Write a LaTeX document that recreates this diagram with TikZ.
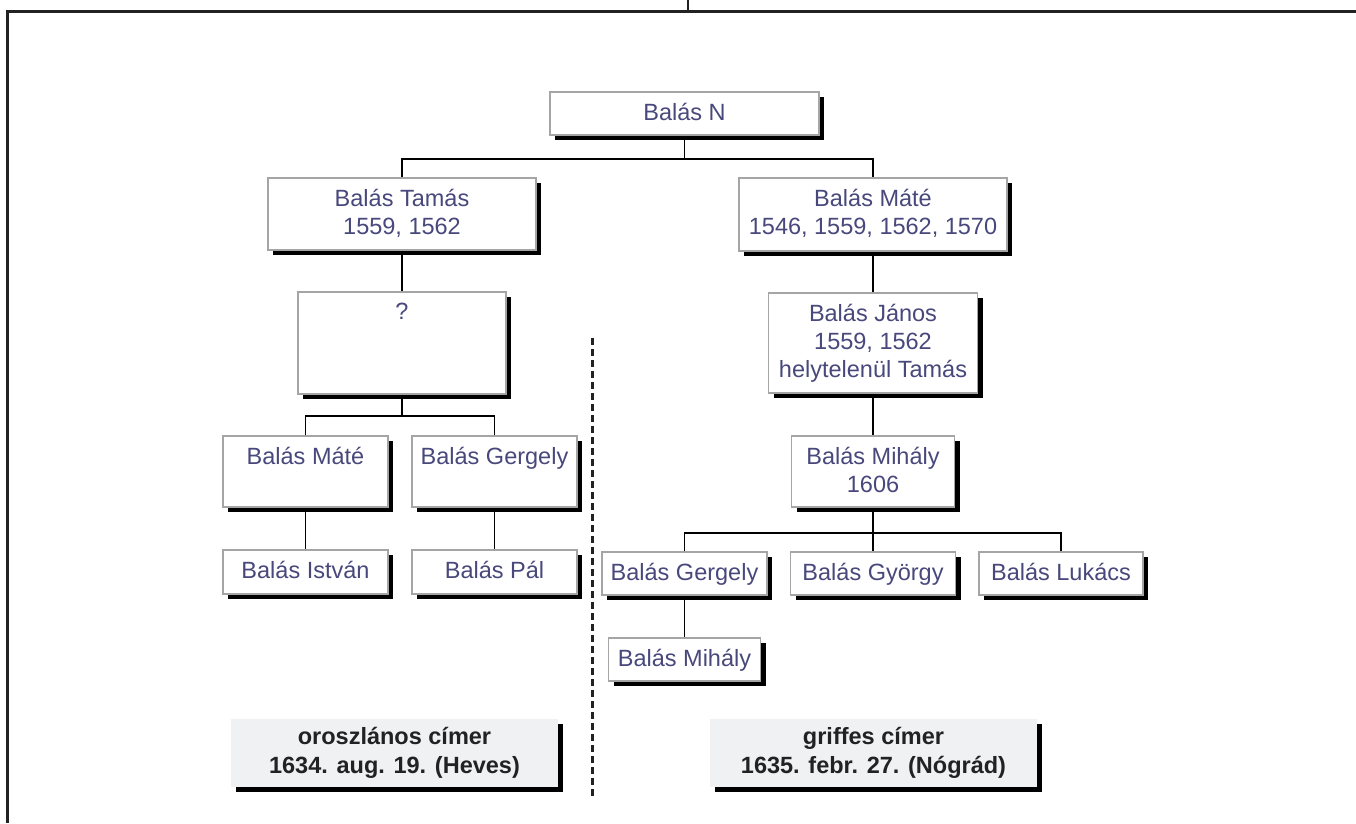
\documentclass[tikz,border=0pt]{standalone}
\usepackage{fontspec}
\setmainfont{Liberation Sans}
\usetikzlibrary{shadows,calc}
\definecolor{pcol}{RGB}{72,72,124}
\definecolor{boxgray}{RGB}{165,165,165}
\definecolor{labfill}{RGB}{240,241,243}
\definecolor{framecol}{RGB}{34,34,34}
\begin{document}
\begin{tikzpicture}[x=1pt,y=-1pt,
  pbox/.style={draw=boxgray, line width=1.4pt, fill=white, inner sep=0pt,
    general shadow={fill=black, shadow xshift=5pt, shadow yshift=-5pt}},
  lbox/.style={fill=labfill, inner sep=0pt, align=center,
    font=\fontsize{23.5}{28.5}\selectfont\bfseries, text=framecol,
    general shadow={fill=black, shadow xshift=5pt, shadow yshift=-5pt}},
  sz/.style 2 args={minimum width=#1pt, minimum height=#2pt},
  ptext/.style={anchor=north, inner sep=0pt, align=center, text=pcol,
    font=\fontsize{23.5}{28}\selectfont},
  conn/.style={draw=black, line width=1.8pt},
  framel/.style={draw=framecol, line width=3pt},
  dashl/.style={draw=framecol, line width=3pt, dash pattern=on 6.5pt off 4.5pt}
]
\useasboundingbox (0,0) rectangle (1356,823);
% frame
\draw[framel] (1356,11) -- (7,11) -- (7,823);
\draw[draw=framecol, line width=1.2pt] (688,0) -- (688,11);
% dashed separator
\draw[dashl] (592,338) -- (592,800);

% boxes
\node[pbox, sz={269}{43}] (N) at (684.5,113.5) {};
\node[pbox, sz={268}{72}] (Tamas) at (402,214) {};
\node[pbox, sz={268}{73}] (MateR) at (873,214.5) {};
\node[pbox, sz={208}{102}] (Q) at (402,343) {};
\node[pbox, sz={209}{100}] (Janos) at (873,343) {};
\node[pbox, sz={165}{71}] (MateL) at (305.5,471.5) {};
\node[pbox, sz={165}{71}] (GergelyL) at (494.5,471.5) {};
\node[pbox, sz={163}{71}] (MihalyM) at (873,471.5) {};
\node[pbox, sz={165}{44}] (Istvan) at (305.5,572) {};
\node[pbox, sz={165}{44}] (Pal) at (494.5,572) {};
\node[pbox, sz={165}{43}] (GergelyR) at (684.5,573.5) {};
\node[pbox, sz={165}{43}] (Gyorgy) at (873,573.5) {};
\node[pbox, sz={164}{43}] (Lukacs) at (1061,573.5) {};
\node[pbox, sz={152}{43}] (MihalyB) at (684.5,659.5) {};

% texts
\node[ptext] (tN) at ($(N.north)+(0,11.5)$) {Balás N};
\node[ptext] (tTamas) at ($(Tamas.north)+(0,11.5)$) {Balás Tamás\\1559, 1562};
\node[ptext] (tMateR) at ($(MateR.north)+(0,11.5)$) {Balás Máté\\1546, 1559, 1562, 1570};
\node[ptext] (tQ) at ($(Q.north)+(0,11.5)$) {?};
\node[ptext] (tJanos) at ($(Janos.north)+(0,11.5)$) {Balás János\\1559, 1562\\helytelenül Tamás};
\node[ptext] (tMateL) at ($(MateL.north)+(0,11.5)$) {Balás Máté};
\node[ptext] (tGergelyL) at ($(GergelyL.north)+(0,11.5)$) {Balás Gergely};
\node[ptext] (tMihalyM) at ($(MihalyM.north)+(0,11.5)$) {Balás Mihály\\1606};
\node[ptext] (tIstvan) at ($(Istvan.north)+(0,11.5)$) {Balás István};
\node[ptext] (tPal) at ($(Pal.north)+(0,11.5)$) {Balás Pál};
\node[ptext] (tGergelyR) at ($(GergelyR.north)+(0,11.5)$) {Balás Gergely};
\node[ptext] (tGyorgy) at ($(Gyorgy.north)+(0,11.5)$) {Balás György};
\node[ptext] (tLukacs) at ($(Lukacs.north)+(0,11.5)$) {Balás Lukács};
\node[ptext] (tMihalyB) at ($(MihalyB.north)+(0,11.5)$) {Balás Mihály};

% label boxes
\node[lbox, sz={327}{68}] (Lion) at (394.5,753) {oroszlános címer\\1634. aug. 19. (Heves)};
\node[lbox, sz={327}{68}] (Griff) at (873.5,753) {griffes címer\\1635. febr. 27. (Nógrád)};

% connectors
\coordinate (busN) at ($(N.south)+(0,23)$);
\draw[conn] (N.south) -- (busN);
\draw[conn] (Tamas.north) |- (busN) -| (MateR.north);
\draw[conn] (Tamas.south) -- (Q.north);
\coordinate (busQ) at ($(Q.south)+(0,21)$);
\draw[conn] (Q.south) -- (busQ);
\draw[conn] (MateL.north) |- (busQ) -| (GergelyL.north);
\draw[conn] (MateL.south) -- (Istvan.north);
\draw[conn] (GergelyL.south) -- (Pal.north);
\draw[conn] (MateR.south) -- (Janos.north);
\draw[conn] (Janos.south) -- (MihalyM.north);
\coordinate (busM) at ($(MihalyM.south)+(0,25)$);
\draw[conn] (MihalyM.south) -- (Gyorgy.north);
\draw[conn] (GergelyR.north) |- (busM) -| (Lukacs.north);
\draw[conn] (GergelyR.south) -- (MihalyB.north);
\end{tikzpicture}
\end{document}
